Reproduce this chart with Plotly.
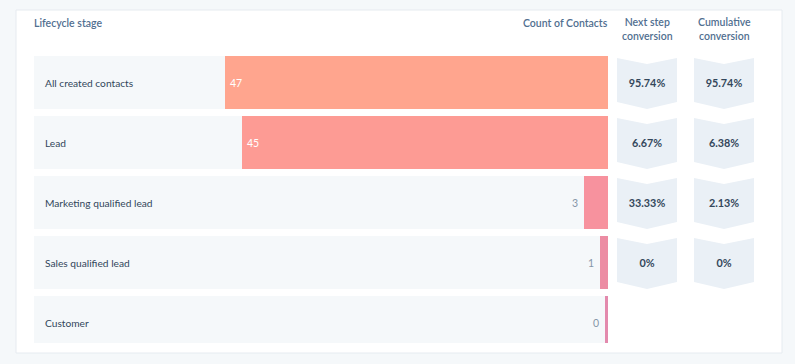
import plotly.graph_objects as go

# ---- data ----
stages = ["All created contacts", "Lead", "Marketing qualified lead",
          "Sales qualified lead", "Customer"]
counts = [47, 45, 3, 1, 0]
next_step = [95.74, 6.67, 33.33, 0]
cumulative = [95.74, 6.38, 2.13, 0]
bar_colors = ["#ffa58e", "#fd9b94", "#f7929e", "#ec8ca3", "#e38aad"]

# ---- layout constants (pixels) ----
W, H = 795, 364
PX0, PX1 = 34, 608          # main bar area
PY0, PY1 = 56, 343          # rows area (top, bottom)
PITCH = 60                  # px per row
ROW_H = 53
C1X, C2X = 612, 760         # conversion column area
FONT = "Lato, 'Open Sans', sans-serif"

def px(x):
    return x / W

def py(y):
    return 1 - y / H

R = max(counts) * 1.5                     # x axis extent
MIN_VIS = 3.5 * R / (PX1 - PX0)           # minimum visible bar, data units
y_top = -26.5 / PITCH
y_bot = (PY1 - PY0 - 26.5) / PITCH
idx = list(range(len(stages)))

fig = go.Figure()

# row backgrounds
fig.add_trace(go.Bar(y=idx, x=[R] * len(stages), orientation="h",
                     marker=dict(color="#f5f8fa", line_width=0),
                     width=ROW_H / PITCH, hoverinfo="skip", showlegend=False))
# minimum visible width for bars
fig.add_trace(go.Bar(y=idx, x=[MIN_VIS] * len(stages), orientation="h",
                     marker=dict(color=bar_colors, line_width=0, cornerradius=2),
                     width=ROW_H / PITCH, hoverinfo="skip", showlegend=False))
# count bars
fig.add_trace(go.Bar(y=idx, x=counts, orientation="h",
                     marker=dict(color=bar_colors, line_width=0, cornerradius=2),
                     width=ROW_H / PITCH, showlegend=False,
                     hovertemplate="%{x}<extra></extra>"))

# conversion chevrons
def chevrons(cx, vals):
    xs, ys = [], []
    hw = 30
    for i, _ in enumerate(vals):
        tc = i - 24.5 / PITCH
        tm = i - 18.5 / PITCH
        bc = i + 19.5 / PITCH
        bm = i + 26.5 / PITCH
        xs += [cx - hw, cx, cx + hw, cx + hw, cx, cx - hw, cx - hw, None]
        ys += [tc, tm, tc, bc, bm, bc, tc, None]
    return xs, ys

for cx, vals in [(647, next_step), (724, cumulative)]:
    xs, ys = chevrons(cx, vals)
    fig.add_trace(go.Scatter(x=xs, y=ys, xaxis="x2", yaxis="y", mode="lines",
                             fill="toself", fillcolor="#eaf0f6",
                             line=dict(width=0, color="#eaf0f6"),
                             hoverinfo="skip", showlegend=False))
    fig.add_trace(go.Scatter(x=[cx] * len(vals),
                             y=[i + 1.5 / PITCH for i in range(len(vals))],
                             xaxis="x2", yaxis="y", mode="text",
                             text=[f"<b>{v:g}%</b>" for v in vals],
                             textfont=dict(family=FONT, size=10.8, color="#33475b"),
                             hoverinfo="skip", showlegend=False))

annotations = []
# headers
hdr = dict(family=FONT, size=10.5, color="#516f90", weight=600)
annotations.append(dict(x=px(32), y=py(23), xref="paper", yref="paper",
                        text="Lifecycle stage", showarrow=False,
                        xanchor="left", yanchor="middle", font=hdr))
annotations.append(dict(x=px(610), y=py(23), xref="paper", yref="paper",
                        text="Count of Contacts", showarrow=False,
                        xanchor="right", yanchor="middle", font=hdr))
for cx, t in [(647, "Next step<br>conversion"), (724, "Cumulative<br>conversion")]:
    annotations.append(dict(x=px(cx), y=py(29), xref="paper", yref="paper",
                            text=t, showarrow=False,
                            xanchor="center", yanchor="middle", font=hdr))

# row labels and bar values
for i, (s, v) in enumerate(zip(stages, counts)):
    annotations.append(dict(x=px(43), y=i, xref="paper", yref="y", text=s,
                            showarrow=False, xanchor="left", yanchor="middle",
                            font=dict(family=FONT, size=10.2, color="#33475b")))
    inside = v / R * (PX1 - PX0) > 40
    if inside:
        annotations.append(dict(x=v, y=i, xref="x", yref="y", text=str(v),
                                showarrow=False, xanchor="left", xshift=3,
                                font=dict(family=FONT, size=10.5, color="#ffffff")))
    else:
        annotations.append(dict(x=max(v, MIN_VIS), y=i, xref="x", yref="y",
                                text=str(v), showarrow=False, xanchor="right",
                                xshift=-4,
                                font=dict(family=FONT, size=10.5, color="#8596a8")))

shapes = [dict(type="rect", xref="paper", yref="paper", layer="below",
               x0=px(16), x1=px(782), y0=py(353), y1=py(10),
               fillcolor="#ffffff", line=dict(color="#e6ebf0", width=1))]

fig.update_layout(
    width=W, height=H, margin=dict(l=0, r=0, t=0, b=0),
    paper_bgcolor="#f5f8fa", plot_bgcolor="rgba(0,0,0,0)",
    barmode="overlay", bargap=0,
    xaxis=dict(domain=[px(PX0), px(PX1)], range=[R, 0], visible=False,
               fixedrange=True),
    xaxis2=dict(domain=[px(C1X), px(C2X)], range=[C1X, C2X], visible=False,
                anchor="y", fixedrange=True),
    yaxis=dict(domain=[py(PY1), py(PY0)], range=[y_bot, y_top], visible=False,
               fixedrange=True),
    annotations=annotations, shapes=shapes, showlegend=False,
)

fig.write_html("out.html", config={"displayModeBar": False},
               post_script="document.body.style.margin='0';"
                           "document.body.style.background='#f5f8fa';")
